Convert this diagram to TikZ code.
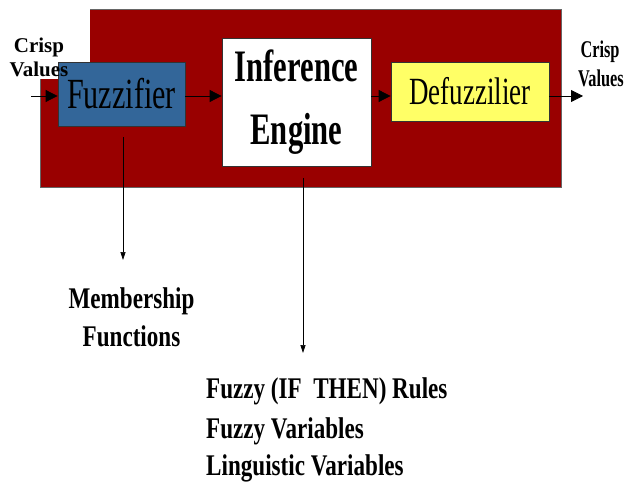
\documentclass[tikz,border=0pt]{standalone}
\usepackage{fontspec}
\setmainfont{Liberation Serif}
\newfontfamily\narR[FakeStretch=0.70]{Liberation Serif}
\newfontfamily\narB[FakeStretch=0.68]{Liberation Serif}
\newfontfamily\narC[FakeStretch=0.77]{Liberation Serif}
\usetikzlibrary{arrows.meta}
\definecolor{boxred}{RGB}{153,0,0}
\definecolor{boxblue}{RGB}{51,102,153}
\definecolor{boxyellow}{RGB}{255,255,102}
\tikzset{
  blk/.style={draw=black!80, line width=0.8pt, inner sep=0pt, align=center},
  bigarrow/.style={-{Triangle[length=12pt,width=12pt]}, line width=0.8pt},
  smallarrow/.style={-{Triangle[length=8pt,width=5pt]}, line width=0.6pt},
  lbl/.style={inner sep=0pt, anchor=base},
}
\begin{document}
\begin{tikzpicture}[x=1pt,y=-1pt]
\useasboundingbox (0,0) rectangle (627,484);
% background red box and white cover
\fill[boxred, draw=black!60, line width=0.6pt] (40,9) rectangle (561,187);
\fill[white] (0,0) rectangle (90,79);
% blocks
\node[blk, fill=boxblue, minimum width=127pt, minimum height=64pt,
      font={\fontsize{43}{43}\narR}] (fuzz) at (121.5,94) {Fuzzifier};
\node[blk, fill=white, minimum width=149pt, minimum height=128pt,
      font={\fontsize{45}{63}\narB\bfseries}] (inf) at (296.5,102) {Inference\\Engine};
\node[blk, fill=boxyellow, minimum width=158pt, minimum height=59pt,
      font={\fontsize{38.5}{38.5}\narR}] (def) at (470,91.5) {Defuzzilier};
% horizontal flow
\coordinate (in) at (31,96);
\coordinate (out) at (583,96);
\draw[bigarrow] (in) -- (in -| fuzz.west);
\draw[bigarrow] (in -| fuzz.east) -- (in -| inf.west);
\draw[bigarrow] (in -| inf.east) -- (in -| def.west);
\draw[bigarrow] (in -| def.east) -- (out);
% crisp labels
\node[lbl, font={\fontsize{21}{21}\selectfont\bfseries}] (cin1) at (39,53) {Crisp};
\node[lbl, font={\fontsize{21}{21}\selectfont\bfseries}] (cin2) at (39,77) {Values};
\node[lbl, font={\fontsize{24}{24}\narB\bfseries}] (cout1) at (600,58) {Crisp};
\node[lbl, font={\fontsize{24}{24}\narB\bfseries}] (cout2) at (601,87) {Values};
% vertical arrows
\coordinate (f1) at (123,137);
\coordinate (f2) at (123,260);
\coordinate (i1) at (303,178);
\coordinate (i2) at (303,353);
\draw[smallarrow] (f1) -- (f2);
\draw[smallarrow] (i1) -- (i2);
% bottom texts
\tikzset{btm/.style={lbl, font={\fontsize{30}{30}\narC\bfseries}}}
\node[btm] (mem1) at (131.5,308) {Membership};
\node[btm] (mem2) at (131.5,346) {Functions};
\node[btm, anchor=base west] (r1) at (206,398) {Fuzzy (IF\ \ THEN) Rules};
\node[btm, anchor=base west] (r2) at (206,438) {Fuzzy Variables};
\node[btm, anchor=base west] (r3) at (206,475) {Linguistic Variables};
\end{tikzpicture}
\end{document}
